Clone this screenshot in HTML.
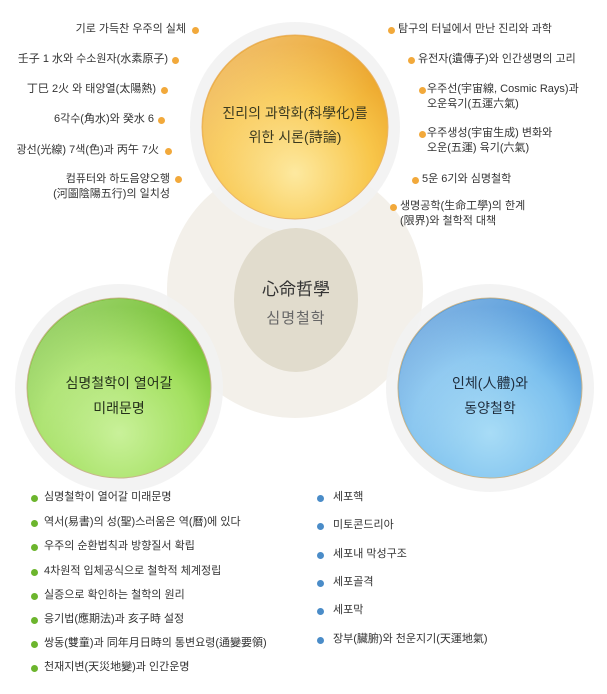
<!DOCTYPE html>
<html><head><meta charset="utf-8"><style>
body{margin:0;width:607px;height:694px;background:#fff;position:relative;overflow:hidden;font-family:"Liberation Sans","Noto Sans CJK KR",sans-serif;color:#333;font-size:11px}
.t{position:absolute;white-space:nowrap;line-height:15px}
.r{text-align:right}
.d{position:absolute;width:7px;height:7px;border-radius:50%}
.o{background:#f2a93b}.g{background:#6cb52d}.b{background:#4a8cc8}
.c{position:absolute;text-align:center;white-space:nowrap}
</style></head><body>
<svg width="607" height="694" style="position:absolute;left:0;top:0">
<defs>
<radialGradient id="go" cx="50%" cy="75%" r="70%"><stop offset="0" stop-color="#fde9a0"/><stop offset="0.6" stop-color="#f8c64a"/><stop offset="1" stop-color="#eba42a"/></radialGradient>
<radialGradient id="gg" cx="50%" cy="75%" r="70%"><stop offset="0" stop-color="#c9f19a"/><stop offset="0.6" stop-color="#a3e060"/><stop offset="1" stop-color="#72c02e"/></radialGradient>
<radialGradient id="gb" cx="50%" cy="75%" r="70%"><stop offset="0" stop-color="#a8dcf6"/><stop offset="0.6" stop-color="#7cc0ee"/><stop offset="1" stop-color="#4a94d8"/></radialGradient>
<linearGradient id="sh" x1="0" y1="0" x2="1" y2="1"><stop offset="0" stop-color="#fff" stop-opacity="0.6"/><stop offset="0.6" stop-color="#fff" stop-opacity="0"/></linearGradient>
</defs>
<circle cx="295" cy="290" r="128" fill="#f3f0ea"/>
<circle cx="295" cy="127" r="105" fill="#f2f2f2" opacity="0.9"/>
<circle cx="119" cy="388" r="104" fill="#f2f2f2" opacity="0.9"/>
<circle cx="490" cy="388" r="104" fill="#f2f2f2" opacity="0.9"/>
<ellipse cx="296" cy="300" rx="62" ry="72" fill="#e1dccd"/>
<ellipse cx="295" cy="127" rx="93" ry="92" fill="url(#go)" stroke="#e9b56a" stroke-width="1"/>
<ellipse cx="119" cy="388" rx="92" ry="90" fill="url(#gg)" stroke="#c8b48c" stroke-width="1"/>
<ellipse cx="490" cy="388" rx="92" ry="90" fill="url(#gb)" stroke="#c8b48c" stroke-width="1"/>
<ellipse cx="295" cy="127" rx="92" ry="91" fill="url(#sh)" opacity="0.6"/>
<ellipse cx="119" cy="388" rx="91" ry="89" fill="url(#sh)" opacity="0.6"/>
<ellipse cx="490" cy="388" rx="91" ry="89" fill="url(#sh)" opacity="0.6"/>
</svg>
<div class="c" style="left:195px;top:101px;width:200px;font-size:14px;line-height:24px;color:#3b3a20">진리의 과학화(科學化)를<br>위한 시론(詩論)</div>
<div class="c" style="left:235px;top:275px;width:122px;font-size:17px;color:#333">心命哲學</div>
<div class="c" style="left:235px;top:307px;width:122px;font-size:15px;color:#666;letter-spacing:1px">심명철학</div>
<div class="c" style="left:19px;top:371px;width:200px;font-size:14px;line-height:25px;color:#24301a">심명철학이 열어갈<br>미래문명</div>
<div class="c" style="left:390px;top:371px;width:200px;font-size:14px;line-height:25px;color:#1f2d3d">인체(人體)와<br>동양철학</div>

<div class="t r" style="right:421px;top:22px">기로 가득찬 우주의 실체</div><div class="d o" style="left:192px;top:27px"></div>
<div class="t r" style="right:439px;top:52px">壬子 1 水와 수소원자(水素原子)</div><div class="d o" style="left:172px;top:57px"></div>
<div class="t r" style="right:451px;top:82px">丁巳 2火 와 태양열(太陽熱)</div><div class="d o" style="left:161px;top:87px"></div>
<div class="t r" style="right:453px;top:112px">6각수(角水)와 癸水 6</div><div class="d o" style="left:158px;top:117px"></div>
<div class="t r" style="right:448px;top:143px">광선(光線) 7색(色)과 丙午 7火</div><div class="d o" style="left:165px;top:148px"></div>
<div class="t r" style="right:437px;top:172px">컴퓨터와 하도음양오행<br>(河圖陰陽五行)의 일치성</div><div class="d o" style="left:175px;top:176px"></div>

<div class="d o" style="left:388px;top:27px"></div><div class="t" style="left:398px;top:22px">탐구의 터널에서 만난 진리와 과학</div>
<div class="d o" style="left:408px;top:57px"></div><div class="t" style="left:418px;top:52px">유전자(遺傳子)와 인간생명의 고리</div>
<div class="d o" style="left:419px;top:87px"></div><div class="t" style="left:427px;top:82px">우주선(宇宙線, Cosmic Rays)과<br>오운육기(五運六氣)</div>
<div class="d o" style="left:419px;top:131px"></div><div class="t" style="left:427px;top:126px">우주생성(宇宙生成) 변화와<br>오운(五運) 육기(六氣)</div>
<div class="d o" style="left:412px;top:177px"></div><div class="t" style="left:422px;top:172px">5운 6기와 심명철학</div>
<div class="d o" style="left:390px;top:204px"></div><div class="t" style="left:400px;top:199px">생명공학(生命工學)의 한계<br>(限界)와 철학적 대책</div>

<div class="d g" style="left:31px;top:495px"></div><div class="t" style="left:44px;top:490px">심명철학이 열어갈 미래문명</div>
<div class="d g" style="left:31px;top:520px"></div><div class="t" style="left:44px;top:515px">역서(易書)의 성(聖)스러움은 역(曆)에 있다</div>
<div class="d g" style="left:31px;top:544px"></div><div class="t" style="left:44px;top:539px">우주의 순환법칙과 방향질서 확립</div>
<div class="d g" style="left:31px;top:569px"></div><div class="t" style="left:44px;top:564px">4차원적 입체공식으로 철학적 체계정립</div>
<div class="d g" style="left:31px;top:593px"></div><div class="t" style="left:44px;top:588px">실증으로 확인하는 철학의 원리</div>
<div class="d g" style="left:31px;top:617px"></div><div class="t" style="left:44px;top:612px">응기법(應期法)과 亥子時 설정</div>
<div class="d g" style="left:31px;top:641px"></div><div class="t" style="left:44px;top:636px">쌍동(雙童)과 同年月日時의 통변요령(通變要領)</div>
<div class="d g" style="left:31px;top:665px"></div><div class="t" style="left:44px;top:660px">천재지변(天災地變)과 인간운명</div>

<div class="d b" style="left:317px;top:495px"></div><div class="t" style="left:333px;top:490px">세포핵</div>
<div class="d b" style="left:317px;top:523px"></div><div class="t" style="left:333px;top:518px">미토콘드리아</div>
<div class="d b" style="left:317px;top:552px"></div><div class="t" style="left:333px;top:547px">세포내 막성구조</div>
<div class="d b" style="left:317px;top:580px"></div><div class="t" style="left:333px;top:575px">세포골격</div>
<div class="d b" style="left:317px;top:608px"></div><div class="t" style="left:333px;top:603px">세포막</div>
<div class="d b" style="left:317px;top:637px"></div><div class="t" style="left:333px;top:632px">장부(臟腑)와 천운지기(天運地氣)</div>
</body></html>
